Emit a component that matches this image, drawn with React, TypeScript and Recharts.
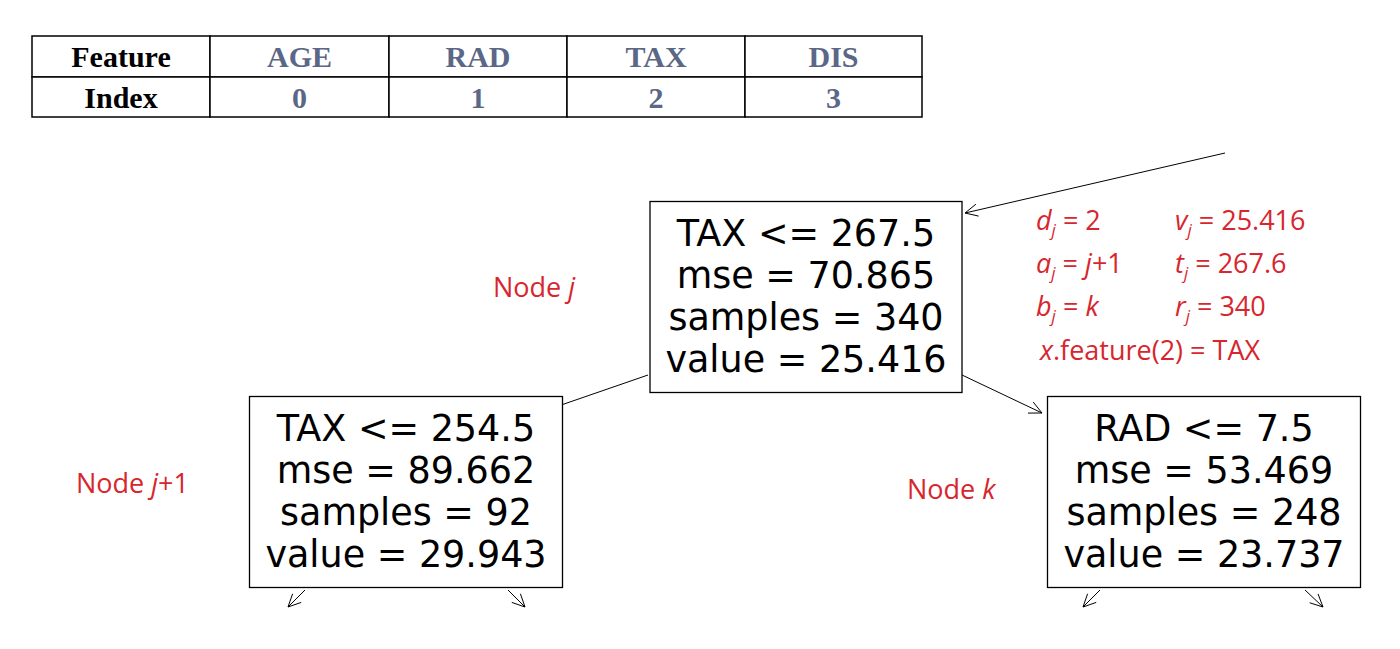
import { ScatterChart, Scatter, XAxis, YAxis } from 'recharts';

const features = ['Feature', 'AGE', 'RAD', 'TAX', 'DIS'];
const indices = ['Index', '0', '1', '2', '3'];
const colEdges = [32, 210, 389, 567, 745, 922];

const nodeLines = [
  ['TAX <= 267.5', 'mse = 70.865', 'samples = 340', 'value = 25.416'],
  ['TAX <= 254.5', 'mse = 89.662', 'samples = 92', 'value = 29.943'],
  ['RAD <= 7.5', 'mse = 53.469', 'samples = 248', 'value = 23.737'],
];
const nodes = [
  { x: 806, y: 297, w: 312, h: 191, id: 0 },
  { x: 406, y: 492, w: 313, h: 191, id: 1 },
  { x: 1204, y: 492, w: 313, h: 191, id: 2 },
];
const arrows = [
  [1225, 153, 965, 213],
  [648, 375, 538, 413],
  [962, 375, 1042, 413],
  [305, 590, 288, 607],
  [508, 590, 525, 607],
  [1100, 590, 1083, 607],
  [1305, 590, 1323, 607],
];

const RED = '#d7262e';
const cells = features.map((f, i) => ({ x: (colEdges[i] + colEdges[i + 1]) / 2, y: 76, i }));

const TableCell = (p: any) => {
  const i = p.payload.i;
  const x0 = colEdges[i], x1 = colEdges[i + 1];
  const col = i === 0 ? '#000' : '#5b6786';
  return (
    <g fontFamily="Liberation Serif" fontWeight="bold" fontSize={30} textAnchor="middle">
      <rect x={x0} y={36} width={x1 - x0} height={41} fill="#fff" stroke="#000" strokeWidth={1.5} />
      <rect x={x0} y={77} width={x1 - x0} height={40} fill="#fff" stroke="#000" strokeWidth={1.5} />
      <text x={p.cx} y={67} fill={col}>{features[i]}</text>
      <text x={p.cx} y={108} fill={col}>{indices[i]}</text>
    </g>
  );
};

const NodeBox = (p: any) => {
  const { w, h, id } = p.payload;
  return (
    <g>
      <rect x={p.cx - w / 2} y={p.cy - h / 2} width={w} height={h} fill="#fff" stroke="#000" strokeWidth={1.3} />
      {nodeLines[id].map((t, k) => (
        <text key={k} x={p.cx} y={p.cy - h / 2 + 44 + k * 42} textAnchor="middle" fontFamily="DejaVu Sans" fontSize={36.5} fill="#000">{t}</text>
      ))}
    </g>
  );
};

const Arrow = ({ a }: { a: number[] }) => {
  const [x1, y1, x2, y2] = a;
  const t = Math.atan2(y2 - y1, x2 - x1);
  const L = 14, s = 0.45;
  return (
    <g stroke="#000" strokeWidth={1} fill="none">
      <line x1={x1} y1={y1} x2={x2} y2={y2} />
      <line x1={x2} y1={y2} x2={x2 - L * Math.cos(t - s)} y2={y2 - L * Math.sin(t - s)} />
      <line x1={x2} y1={y2} x2={x2 - L * Math.cos(t + s)} y2={y2 - L * Math.sin(t + s)} />
    </g>
  );
};

const Sub = ({ c }: { c: string }) => <tspan fontSize={17} dy={6} fontStyle="italic">{c}</tspan>;

const Labels = () => (
  <g>
    {arrows.map((a, i) => <Arrow key={i} a={a} />)}
    <g fontFamily="Open Sans" fontSize={27} fill={RED}>
      <text x={493} y={297}>Node <tspan fontStyle="italic">j</tspan></text>
      <text x={76} y={493}>Node <tspan fontStyle="italic">j</tspan>+1</text>
      <text x={907} y={499}>Node <tspan fontStyle="italic">k</tspan></text>
      <text x={1036} y={230}><tspan fontStyle="italic">d</tspan><Sub c="j" /><tspan dy={-6}> = 2</tspan></text>
      <text x={1036} y={273}><tspan fontStyle="italic">a</tspan><Sub c="j" /><tspan dy={-6}> = </tspan><tspan fontStyle="italic">j</tspan>+1</text>
      <text x={1036} y={316}><tspan fontStyle="italic">b</tspan><Sub c="j" /><tspan dy={-6}> = </tspan><tspan fontStyle="italic">k</tspan></text>
      <text x={1040} y={360}><tspan fontStyle="italic">x</tspan>.feature(2) = TAX</text>
      <text x={1175} y={230}><tspan fontStyle="italic">v</tspan><Sub c="j" /><tspan dy={-6}> = 25.416</tspan></text>
      <text x={1175} y={273}><tspan fontStyle="italic">t</tspan><Sub c="j" /><tspan dy={-6}>  = 267.6</tspan></text>
      <text x={1175} y={316}><tspan fontStyle="italic">r</tspan><Sub c="j" /><tspan dy={-6}> = 340</tspan></text>
    </g>
  </g>
);

export default function App() {
  return (
    <div style={{ position: 'absolute', left: 0, top: 0, background: '#fff' }}>
      <ScatterChart width={1400} height={649} margin={{ top: 0, right: 0, bottom: 0, left: 0 }}>
        <XAxis type="number" dataKey="x" domain={[0, 1400]} hide />
        <YAxis type="number" dataKey="y" domain={[0, 649]} reversed hide />
        <Scatter data={cells} shape={TableCell} isAnimationActive={false} />
        <Scatter data={nodes} shape={NodeBox} isAnimationActive={false} />
        <Labels />
      </ScatterChart>
    </div>
  );
}
